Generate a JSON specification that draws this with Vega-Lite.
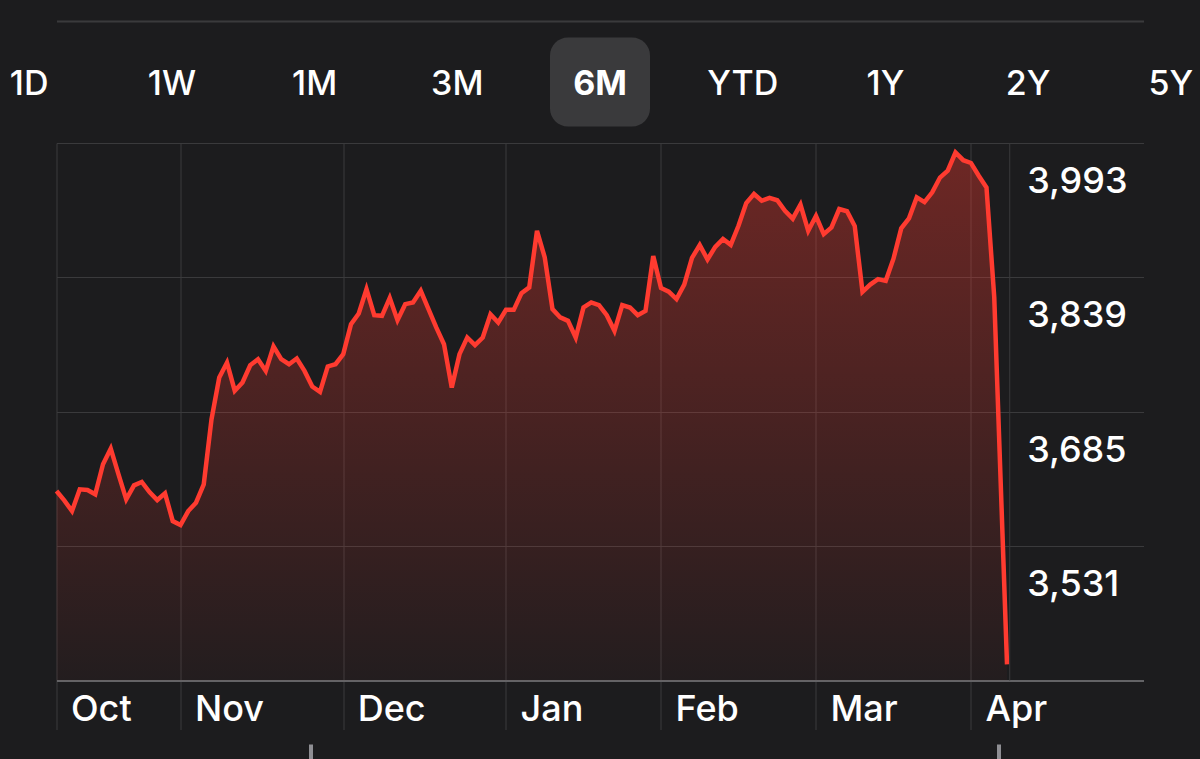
{
  "$schema": "https://vega.github.io/schema/vega-lite/v6.json",
  "background": "#1c1c1e",
  "padding": {"left": 0, "right": 0, "top": 21, "bottom": 0},
  "spacing": 0,
  "bounds": "flush",
  "center": true,
  "config": {"view": {"stroke": null}, "font": "Inter"},
  "datasets": {
    "ranges": [
      {"range": "1D"}, {"range": "1W"}, {"range": "1M"}, {"range": "3M"}, {"range": "6M"},
      {"range": "YTD"}, {"range": "1Y"}, {"range": "2Y"}, {"range": "5Y"}
    ],
    "prices": [
      {"day": 0, "close": 3594.2}, {"day": 1, "close": 3583.5}, {"day": 2, "close": 3571.2}, {"day": 3, "close": 3596.1},
      {"day": 4, "close": 3595.3}, {"day": 5, "close": 3590.4}, {"day": 6, "close": 3624.8}, {"day": 7, "close": 3642.8},
      {"day": 8, "close": 3613.3}, {"day": 9, "close": 3584.6}, {"day": 10, "close": 3600.7}, {"day": 11, "close": 3604.5},
      {"day": 12, "close": 3593.0}, {"day": 13, "close": 3583.8}, {"day": 14, "close": 3591.5}, {"day": 15, "close": 3559.7},
      {"day": 16, "close": 3555.1}, {"day": 17, "close": 3571.2}, {"day": 18, "close": 3580.8}, {"day": 19, "close": 3601.8},
      {"day": 20, "close": 3676.4}, {"day": 21, "close": 3724.2}, {"day": 22, "close": 3741.4}, {"day": 23, "close": 3709.1},
      {"day": 24, "close": 3718.5}, {"day": 25, "close": 3738.3}, {"day": 26, "close": 3745.2}, {"day": 27, "close": 3731.8},
      {"day": 28, "close": 3759.8}, {"day": 29, "close": 3745.2}, {"day": 30, "close": 3739.5}, {"day": 31, "close": 3746.0},
      {"day": 32, "close": 3731.8}, {"day": 33, "close": 3713.9}, {"day": 34, "close": 3707.7}, {"day": 35, "close": 3736.9},
      {"day": 36, "close": 3739.5}, {"day": 37, "close": 3751.0}, {"day": 38, "close": 3785.4}, {"day": 39, "close": 3797.6},
      {"day": 40, "close": 3825.5}, {"day": 41, "close": 3795.7}, {"day": 42, "close": 3794.9}, {"day": 43, "close": 3815.4},
      {"day": 44, "close": 3790.0}, {"day": 45, "close": 3808.3}, {"day": 46, "close": 3810.3}, {"day": 47, "close": 3823.6},
      {"day": 48, "close": 3802.6}, {"day": 49, "close": 3781.6}, {"day": 50, "close": 3762.4}, {"day": 51, "close": 3712.8},
      {"day": 52, "close": 3751.0}, {"day": 53, "close": 3770.1}, {"day": 54, "close": 3761.3}, {"day": 55, "close": 3770.1},
      {"day": 56, "close": 3796.8}, {"day": 57, "close": 3787.3}, {"day": 58, "close": 3801.8}, {"day": 59, "close": 3801.8},
      {"day": 60, "close": 3820.9}, {"day": 61, "close": 3827.5}, {"day": 62, "close": 3892.4}, {"day": 63, "close": 3861.9},
      {"day": 64, "close": 3802.6}, {"day": 65, "close": 3793.1}, {"day": 66, "close": 3789.2}, {"day": 67, "close": 3770.1},
      {"day": 68, "close": 3804.5}, {"day": 69, "close": 3810.3}, {"day": 70, "close": 3807.2}, {"day": 71, "close": 3795.7},
      {"day": 72, "close": 3777.7}, {"day": 73, "close": 3807.2}, {"day": 74, "close": 3804.5}, {"day": 75, "close": 3795.7},
      {"day": 76, "close": 3800.6}, {"day": 77, "close": 3863.4}, {"day": 78, "close": 3826.9}, {"day": 79, "close": 3822.7},
      {"day": 80, "close": 3814.1}, {"day": 81, "close": 3830.7}, {"day": 82, "close": 3861.3}, {"day": 83, "close": 3876.0},
      {"day": 84, "close": 3859.6}, {"day": 85, "close": 3873.9}, {"day": 86, "close": 3882.9}, {"day": 87, "close": 3876.2},
      {"day": 88, "close": 3898.1}, {"day": 89, "close": 3924.2}, {"day": 90, "close": 3934.5}, {"day": 91, "close": 3926.8},
      {"day": 92, "close": 3930.1}, {"day": 93, "close": 3927.4}, {"day": 94, "close": 3915.3}, {"day": 95, "close": 3906.3},
      {"day": 96, "close": 3922.5}, {"day": 97, "close": 3892.4}, {"day": 98, "close": 3909.3}, {"day": 99, "close": 3888.6},
      {"day": 100, "close": 3896.3}, {"day": 101, "close": 3917.3}, {"day": 102, "close": 3914.8}, {"day": 103, "close": 3897.8},
      {"day": 104, "close": 3822.4}, {"day": 105, "close": 3830.7}, {"day": 106, "close": 3837.0}, {"day": 107, "close": 3835.0},
      {"day": 108, "close": 3860.4}, {"day": 109, "close": 3895.2}, {"day": 110, "close": 3906.7}, {"day": 111, "close": 3930.7},
      {"day": 112, "close": 3925.3}, {"day": 113, "close": 3936.4}, {"day": 114, "close": 3953.4}, {"day": 115, "close": 3961.2},
      {"day": 116, "close": 3982.1}, {"day": 117, "close": 3973.3}, {"day": 118, "close": 3970.1}, {"day": 119, "close": 3955.5},
      {"day": 120, "close": 3942.0}, {"day": 121, "close": 3816.3}, {"day": 122.65, "close": 3395.4}
    ]
  },
  "vconcat": [
    {
      "width": 1200,
      "height": 122,
      "data": {"name": "ranges"},
      "encoding": {
        "x": {
          "field": "range",
          "type": "nominal",
          "sort": null,
          "scale": {"type": "point", "padding": 0.2045, "domain": ["1D", "1W", "1M", "3M", "6M", "YTD", "1Y", "2Y", "5Y"]},
          "axis": null
        }
      },
      "layer": [
        {
          "transform": [{"filter": "datum.range === '6M'"}],
          "mark": {
            "type": "point",
            "shape": "M-0.64,-0.89L0.64,-0.89C0.839,-0.89,1,-0.729,1,-0.53L1,0.53C1,0.729,0.839,0.89,0.64,0.89L-0.64,0.89C-0.839,0.89,-1,0.729,-1,0.53L-1,-0.53C-1,-0.729,-0.839,-0.89,-0.64,-0.89Z",
            "size": 10000,
            "filled": true,
            "color": "#3a3a3c",
            "opacity": 1,
            "strokeWidth": 0
          }
        },
        {
          "transform": [{"filter": "datum.range !== '6M'"}],
          "mark": {"type": "text", "font": "Inter", "fontSize": 34, "fontWeight": 500, "color": "#ffffff", "baseline": "middle", "align": "center", "dy": 3},
          "encoding": {"text": {"field": "range"}}
        },
        {
          "transform": [{"filter": "datum.range === '6M'"}],
          "mark": {"type": "text", "font": "Inter", "fontSize": 34, "fontWeight": 700, "color": "#ffffff", "baseline": "middle", "align": "center", "dy": 3},
          "encoding": {"text": {"field": "range"}}
        }
      ]
    },
    {
      "width": 1087,
      "height": 537.5,
      "resolve": {"axis": {"x": "independent"}},
      "layer": [
        {
          "data": {"name": "prices"},
          "mark": {
            "type": "area",
            "line": false,
            "opacity": 1,
            "fill": {
              "gradient": "linear",
              "x1": 0, "y1": 0, "x2": 0, "y2": 1,
              "stops": [
                {"offset": 0, "color": "rgba(255,59,48,0.36)"},
                {"offset": 1, "color": "rgba(255,59,48,0.03)"}
              ]
            }
          },
          "encoding": {
            "x": {
              "field": "day",
              "type": "quantitative",
              "scale": {"domain": [0, 140.26], "nice": false, "zero": false},
              "axis": {
                "orient": "bottom",
                "values": [0, 16, 37, 58, 78, 98, 118],
                "title": null,
                "grid": true,
                "gridColor": "#3a3a3c",
                "gridWidth": 1,
                "ticks": true,
                "tickSize": 49,
                "tickColor": "#3a3a3c",
                "tickWidth": 1,
                "domain": true,
                "domainColor": "#636366",
                "domainWidth": 2,
                "labelExpr": "datum.value == 0 ? 'Oct' : datum.value == 16 ? 'Nov' : datum.value == 37 ? 'Dec' : datum.value == 58 ? 'Jan' : datum.value == 78 ? 'Feb' : datum.value == 98 ? 'Mar' : 'Apr'",
                "labelAlign": "left",
                "labelBaseline": "alphabetic",
                "labelPadding": -8.8,
                "labelOffset": 14,
                "labelFont": "Inter",
                "labelFontSize": 36,
                "labelFontWeight": 500,
                "labelColor": "#ffffff",
                "labelFlush": false,
                "labelOverlap": false
              }
            },
            "y": {
              "field": "close",
              "type": "quantitative",
              "scale": {"domain": [3377, 3993], "nice": false, "zero": false},
              "axis": {
                "orient": "right",
                "values": [3993, 3839, 3685, 3531],
                "format": ",d",
                "title": null,
                "grid": true,
                "gridColor": "#3a3a3c",
                "gridWidth": 1,
                "ticks": false,
                "tickSize": 0,
                "domain": false,
                "labelAlign": "left",
                "labelBaseline": "alphabetic",
                "labelPadding": -116.8,
                "labelOffset": 49.5,
                "labelFont": "Inter",
                "labelFontSize": 36,
                "labelFontWeight": 500,
                "labelColor": "#ffffff",
                "labelFlush": false,
                "labelOverlap": false
              }
            },
            "y2": {"datum": 3377}
          }
        },
        {
          "data": {"name": "prices"},
          "mark": {"type": "line", "color": "#ff3b30", "strokeWidth": 4.5, "strokeJoin": "miter"},
          "encoding": {
            "x": {
              "field": "day",
              "type": "quantitative",
              "scale": {"domain": [0, 140.26], "nice": false, "zero": false},
              "axis": {
                "orient": "bottom",
                "offset": 63.5,
                "values": [32.8, 121.6],
                "title": null,
                "grid": false,
                "domain": false,
                "labels": false,
                "ticks": true,
                "tickSize": 14.5,
                "tickWidth": 4,
                "tickColor": "#8e8e93"
              }
            },
            "y": {
              "field": "close",
              "type": "quantitative",
              "scale": {"domain": [3377, 3993], "nice": false, "zero": false}
            }
          }
        },
        {
          "data": {"values": [{"day": 123}]},
          "mark": {"type": "rule", "color": "#3a3a3c", "strokeWidth": 1},
          "encoding": {
            "x": {
              "field": "day",
              "type": "quantitative",
              "scale": {"domain": [0, 140.26], "nice": false, "zero": false},
              "axis": {
                "orient": "top",
                "offset": 122,
                "title": null,
                "grid": false,
                "domain": true,
                "domainColor": "#3a3a3c",
                "domainWidth": 2,
                "labels": false,
                "ticks": false
              }
            }
          }
        }
      ]
    }
  ]
}
